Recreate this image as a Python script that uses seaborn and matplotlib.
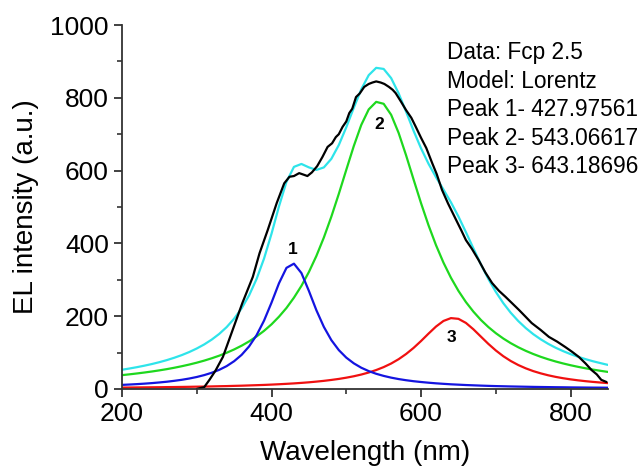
import numpy as np
import pandas as pd
import matplotlib
matplotlib.use("Agg")
import matplotlib.pyplot as plt
from matplotlib.ticker import MultipleLocator
import seaborn as sns

sns.set_style("ticks")
plt.rcParams['font.family'] = ['Liberation Sans', 'DejaVu Sans']
plt.rcParams['text.color'] = 'black'
plt.rcParams['axes.labelcolor'] = 'black'
plt.rcParams['xtick.color'] = 'black'
plt.rcParams['ytick.color'] = 'black'

# wavelength grid of the fitted curves (nm)
wl_fit = [200, 210, 220, 230, 240, 250, 260, 270, 280, 290,
          300, 310, 320, 330, 340, 350, 360, 370, 380, 390,
          400, 410, 420, 430, 440, 450, 460, 470, 480, 490,
          500, 510, 520, 530, 540, 550, 560, 570, 580, 590,
          600, 610, 620, 630, 640, 650, 660, 670, 680, 690,
          700, 710, 720, 730, 740, 750, 760, 770, 780, 790,
          800, 810, 820, 830, 840, 850]

peak1 = [11.1, 12.1, 13.2, 14.5, 16.0, 17.8, 19.8, 22.3, 25.1, 28.6,
         32.8, 38.0, 44.4, 52.4, 62.7, 76.2, 93.6, 116.8, 147.6, 187.7,
         237.1, 290.4, 332.7, 344.2, 318.4, 269.3, 216.3, 170.5, 134.2, 106.7,
         86.0, 70.4, 58.3, 49.0, 41.6, 35.8, 31.0, 27.1, 23.9, 21.2,
         19.0, 17.1, 15.4, 14.0, 12.7, 11.7, 10.7, 9.9, 9.1, 8.4,
         7.8, 7.3, 6.8, 6.4, 6.0, 5.6, 5.3, 5.0, 4.7, 4.5,
         4.2, 4.0, 3.8, 3.6, 3.5, 3.3]

peak2 = [37.9, 40.1, 42.5, 45.1, 47.9, 51.0, 54.4, 58.2, 62.4, 67.0,
         72.1, 77.8, 84.2, 91.3, 99.4, 108.5, 118.8, 130.6, 144.2, 159.6,
         177.5, 198.5, 222.5, 250.8, 283.2, 321.3, 365.4, 416.0, 473.3, 536.0,
         602.1, 667.2, 725.3, 768.1, 788.8, 783.5, 753.3, 703.5, 641.8, 575.5,
         510.3, 449.6, 395.0, 347.0, 305.4, 269.5, 238.7, 212.4, 189.6, 170.1,
         153.2, 138.5, 125.7, 114.5, 104.7, 96.0, 88.3, 81.5, 75.4, 70.0,
         65.1, 60.7, 56.7, 53.1, 49.8, 46.7]

peak3 = [3.7, 3.9, 4.1, 4.3, 4.5, 4.7, 5.0, 5.2, 5.5, 5.8,
         6.2, 6.5, 6.9, 7.4, 7.8, 8.4, 8.9, 9.6, 10.3, 11.0,
         11.9, 12.9, 14.0, 15.2, 16.6, 18.2, 20.1, 22.2, 24.7, 27.5,
         30.9, 34.8, 39.5, 45.1, 51.9, 60.0, 69.8, 81.7, 96.0, 112.7,
         131.7, 152.0, 171.4, 186.8, 194.6, 192.6, 181.4, 163.9, 143.8, 123.8,
         105.7, 89.9, 76.7, 65.7, 56.6, 49.0, 42.8, 37.5, 33.1, 29.4,
         26.3, 23.6, 21.3, 19.3, 17.6, 16.0]

cumulative = [52.7, 56.1, 59.8, 63.9, 68.4, 73.5, 79.2, 85.7, 93.0, 101.4,
              111.1, 122.3, 135.5, 151.1, 169.9, 193.1, 221.3, 257.0, 302.1, 358.3,
              426.5, 501.8, 569.2, 610.2, 618.2, 608.8, 601.8, 608.7, 632.2, 670.2,
              719.0, 772.4, 823.1, 862.2, 882.3, 879.3, 854.1, 812.3, 761.7, 709.4,
              661.0, 618.7, 581.8, 547.8, 512.7, 473.8, 430.8, 386.2, 342.5, 302.3,
              266.7, 235.7, 209.2, 186.6, 167.3, 150.6, 136.4, 124.0, 113.2, 103.9,
              95.6, 88.3, 81.8, 76.0, 70.9, 66.0]

# measured EL spectrum
wl_data = [300, 310, 317, 325, 335, 348, 361, 375, 384, 395, 407, 417, 424, 430,
           437, 444, 448, 454, 461, 468, 475, 481, 486, 490, 495, 500, 504, 508,
           513, 518, 524, 530, 535, 540, 546, 551, 557, 562, 566, 573, 580, 587,
           593, 600, 607, 615, 621, 628, 636, 647, 654, 660, 668, 677, 686, 695,
           704, 713, 722, 731, 740, 748, 760, 771, 782, 793, 802, 811, 820, 828,
           835, 841, 848]
el_data = [0, 5, 25, 50, 88, 162, 236, 308, 373, 437, 511, 565, 583, 585,
           593, 588, 585, 595, 612, 637, 665, 675, 692, 700, 720, 735, 758, 770,
           802, 812, 830, 838, 842, 845, 842, 838, 830, 822, 813, 790, 766, 745,
           720, 690, 662, 620, 590, 547, 510, 464, 435, 409, 385, 354, 320, 291,
           270, 253, 235, 217, 198, 181, 162, 143, 130, 115, 102, 88, 70, 52,
           40, 25, 19]

info_lines = ["Data: Fcp 2.5", "Model: Lorentz", "Peak 1- 427.97561",
              "Peak 2- 543.06617", "Peak 3- 643.18696"]
peak_labels = ["1", "2", "3"]
peak_label_x = [428, 544, 641]
peak_label_y = [382, 728, 140]

fits = pd.DataFrame({'wl': wl_fit, 'p1': peak1, 'p2': peak2, 'p3': peak3, 'sum': cumulative})
meas = pd.DataFrame({'wl': wl_data, 'el': el_data})

fig = plt.figure(figsize=(6.42, 4.72), dpi=100)
ax = fig.add_axes([0.19, 0.176, 0.757, 0.771])

lw = 1.6
sns.lineplot(data=fits, x='wl', y='p2', color='#1ed81e', lw=lw, ax=ax)
sns.lineplot(data=fits, x='wl', y='p3', color='#f01010', lw=lw, ax=ax)
sns.lineplot(data=fits, x='wl', y='p1', color='#1414e0', lw=lw, ax=ax)
sns.lineplot(data=fits, x='wl', y='sum', color='#2ee4ea', lw=lw, ax=ax)
sns.lineplot(data=meas, x='wl', y='el', color='black', lw=lw, ax=ax)

for lab, x, y in zip(peak_labels, peak_label_x, peak_label_y):
    ax.text(x, y, lab, fontsize=12.5, fontweight='bold', ha='center', va='center')

ax.text(0.668, 0.955, "\n".join(info_lines), transform=ax.transAxes,
        fontsize=16.3, va='top', ha='left', linespacing=1.3)

ax.set_xlim(200, 850)
ax.set_ylim(0, 1000)
ax.xaxis.set_major_locator(MultipleLocator(200))
ax.xaxis.set_minor_locator(MultipleLocator(100))
ax.yaxis.set_major_locator(MultipleLocator(200))
ax.yaxis.set_minor_locator(MultipleLocator(100))
ax.tick_params(which='major', length=6, width=1.3, labelsize=19, color='#333333')
ax.tick_params(which='minor', length=3.5, width=1.2, color='#333333')
ax.set_xlabel('Wavelength (nm)', fontsize=20, labelpad=10)
ax.set_ylabel('EL intensity (a.u.)', fontsize=20, labelpad=8)
for side in ['top', 'right']:
    ax.spines[side].set_visible(False)
for side in ['left', 'bottom']:
    ax.spines[side].set_linewidth(1.3)
    ax.spines[side].set_color('#333333')

fig.savefig('out.png', dpi=100)
